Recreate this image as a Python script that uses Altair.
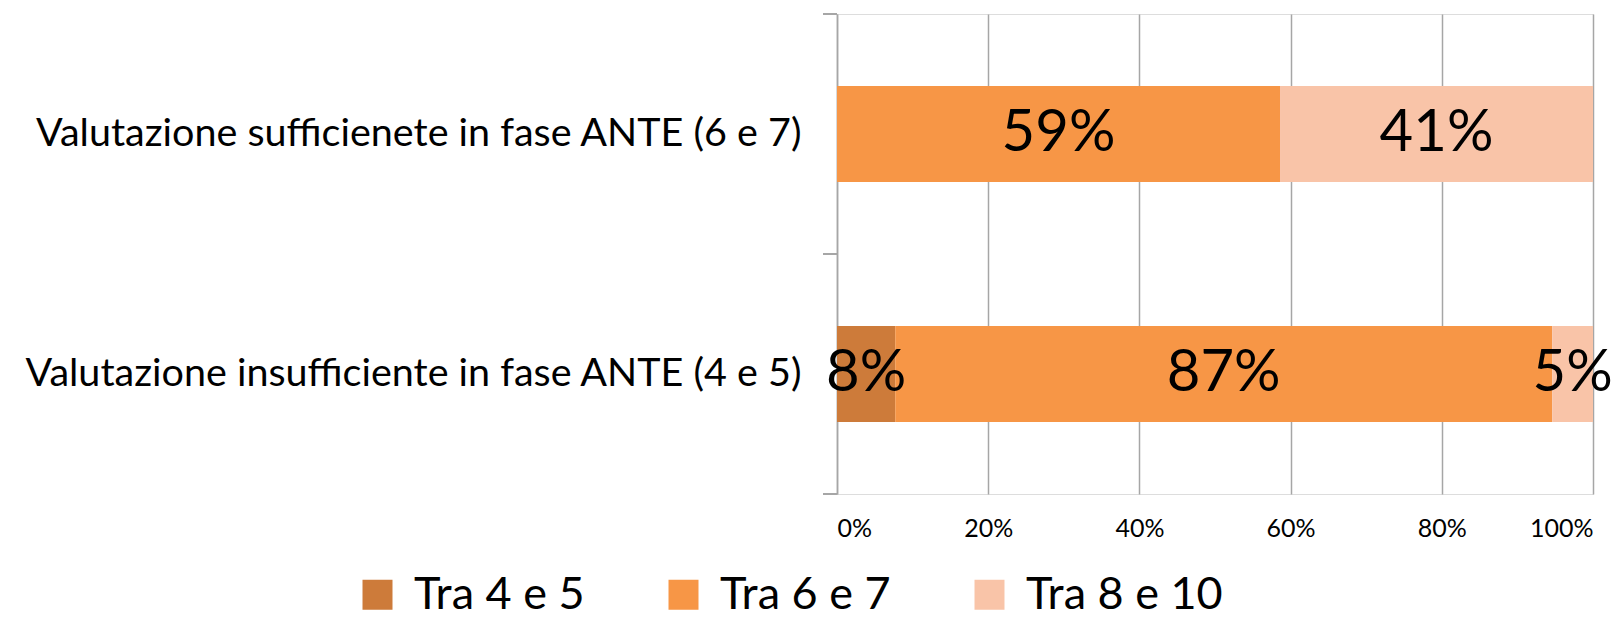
import altair as alt
import pandas as pd

categories = ["Valutazione sufficienete in fase ANTE (6 e 7)",
              "Valutazione insufficiente in fase ANTE (4 e 5)"]
series = ["Tra 4 e 5", "Tra 6 e 7", "Tra 8 e 10"]
colors = ["#CD7B3A", "#F79646", "#F9C4A8"]
# values per series, in the order of categories
tra_4_5 = [0.0, 0.077]
tra_6_7 = [0.586, 0.869]
tra_8_10 = [0.414, 0.054]
x_ticks = [0, 0.2, 0.4, 0.6, 0.8, 1.0]

rows = []
for si, (name, vals) in enumerate(zip(series, [tra_4_5, tra_6_7, tra_8_10])):
    for cat, v in zip(categories, vals):
        rows.append({"cat": cat, "series": name, "ord": si, "value": v})
df = pd.DataFrame(rows)

FONT = "Lato"
GRAY = "#A6A6A6"

base = alt.Chart(df).transform_stack(
    stack="value", groupby=["cat"], as_=["x0", "x1"],
    sort=[alt.SortField("ord")]
).transform_calculate(mid="(datum.x0 + datum.x1) / 2")

yenc = alt.Y("cat:N", sort=categories, title=None,
             scale=alt.Scale(paddingInner=0.6, paddingOuter=0.3),
             axis=alt.Axis(domain=True, domainColor=GRAY, domainWidth=1.5,
                           ticks=False, labelFont=FONT, labelFontSize=39.5,
                           labelColor="black", labelPadding=36, labelLimit=900))

bars = base.mark_bar().encode(
    x=alt.X("x0:Q", title=None, scale=alt.Scale(domain=[0, 1]),
            axis=alt.Axis(values=x_ticks, format="%", domain=False, ticks=False,
                          grid=True, gridColor=GRAY, gridWidth=1.5,
                          labelFont=FONT, labelFontSize=25, labelColor="black",
                          labelPadding=22)),
    x2="x1:Q",
    y=yenc,
    color=alt.Color("series:N", scale=alt.Scale(domain=series, range=colors),
                    legend=alt.Legend(title=None, orient="none", direction="horizontal",
                                      legendX=-482, legendY=558,
                                      symbolType="square", symbolSize=900,
                                      symbolStrokeWidth=0, labelFont=FONT,
                                      labelFontSize=45, labelColor="black",
                                      labelOffset=14, columnPadding=76,
                                      labelLimit=400)),
    order=alt.Order("ord:Q"),
)

labels = base.transform_filter("datum.value > 0").mark_text(
    font=FONT, fontSize=58, color="black", align="center", baseline="middle"
).encode(
    x=alt.X("mid:Q"),
    y=alt.Y("cat:N", sort=categories),
    text=alt.Text("value:Q", format=".0%"),
)

tick_top = alt.Chart(df).mark_rule(color=GRAY, strokeWidth=1.5).encode(
    x=alt.value(-14), x2=alt.value(0), y=alt.value(0))
tick_mid = alt.Chart(df).mark_rule(color=GRAY, strokeWidth=1.5).encode(
    x=alt.value(-14), x2=alt.value(0), y=alt.value(240))
tick_bot = alt.Chart(df).mark_rule(color=GRAY, strokeWidth=1.5).encode(
    x=alt.value(-14), x2=alt.value(0), y=alt.value(480))

chart = alt.layer(bars, labels, tick_top, tick_mid, tick_bot).properties(
    width=756, height=480,
    autosize=alt.AutoSizeParams(type="none"),
    padding={"left": 829, "top": 6, "right": 23, "bottom": 126},
).configure_view(stroke=None).configure(background="white")

chart.save("out.html", embed_options={"renderer": "svg", "actions": False})
